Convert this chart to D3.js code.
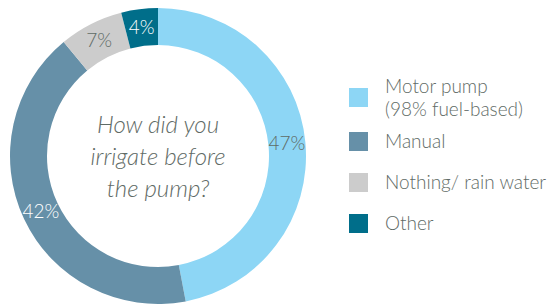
<!DOCTYPE html>
<html>
<head>
<meta charset="utf-8">
<script src="https://cdn.jsdelivr.net/npm/d3@7"></script>
<style>
  body { margin: 0; background: #fff; }
  text { font-family: "Lato", "Open Sans", sans-serif; font-weight: 300; }
</style>
</head>
<body>
<script>
var categories = ["Motor pump|(98% fuel-based)", "Manual", "Nothing/ rain water", "Other"];
var values = [47, 42, 7, 4];
var colors = ["#8dd6f5", "#6690a8", "#cccccc", "#006e8a"];
var labelColors = ["#5f6b66", "#ffffff", "#5f6b66", "#ffffff"];
var question = ["How did you", "irrigate before", "the pump?"];

var width = 552, height = 307;
var cx = 158, cy = 156;

var svg = d3.select("body").append("svg")
  .attr("width", width)
  .attr("height", height);

var pie = d3.pie().sort(null).value(function (d) { return d; });
var arc = d3.arc().innerRadius(111).outerRadius(148);

var g = svg.append("g").attr("transform", "translate(" + cx + "," + cy + ")");

var arcs = pie(values);

g.selectAll("path")
  .data(arcs)
  .enter()
  .append("path")
  .attr("d", arc)
  .attr("fill", function (d, i) { return colors[i]; });

// percentage labels
g.selectAll("text.pct")
  .data(arcs)
  .enter()
  .append("text")
  .attr("class", "pct")
  .attr("transform", function (d) { return "translate(" + arc.centroid(d) + ")"; })
  .attr("text-anchor", "middle")
  .attr("dy", "0.35em")
  .attr("font-size", 19)
  .attr("fill", function (d, i) { return labelColors[i]; })
  .text(function (d) { return d.data + "%"; });

// centre question
g.selectAll("text.q")
  .data(question)
  .enter()
  .append("text")
  .attr("class", "q")
  .attr("x", 0)
  .attr("y", function (d, i) { return (i - 1) * 32 + 1; })
  .attr("dy", "0.35em")
  .attr("text-anchor", "middle")
  .attr("font-size", 24)
  .attr("font-style", "italic")
  .attr("fill", "#5f6b66")
  .text(function (d) { return d; });

// legend
var legY = [88, 132, 173, 214];
var legend = svg.append("g").attr("class", "legend");

legend.selectAll("rect")
  .data(categories)
  .enter()
  .append("rect")
  .attr("x", 349)
  .attr("y", function (d, i) { return legY[i]; })
  .attr("width", 19)
  .attr("height", 19)
  .attr("fill", function (d, i) { return colors[i]; });

var legText = legend.selectAll("text")
  .data(categories)
  .enter()
  .append("text")
  .attr("x", 385)
  .attr("y", function (d, i) {
    var lines = d.split("|").length;
    return legY[i] + 9.5 - (lines - 1) * 11.4;
  })
  .attr("font-size", 19)
  .attr("fill", "#5f6b66");

legText.each(function (d) {
  var t = d3.select(this);
  d.split("|").forEach(function (line, j) {
    t.append("tspan")
      .attr("x", 385)
      .attr("dy", j === 0 ? "0.35em" : "1.2em")
      .text(line);
  });
});
</script>
</body>
</html>
